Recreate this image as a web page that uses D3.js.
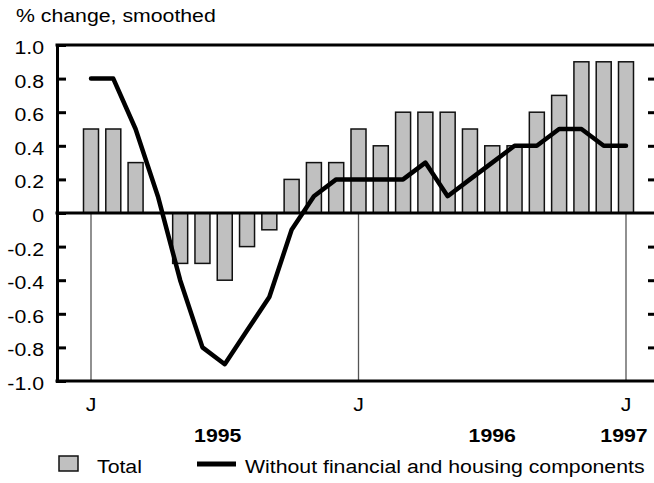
<!DOCTYPE html>
<html>
<head>
<meta charset="utf-8">
<script src="https://cdn.jsdelivr.net/npm/d3@7"></script>
<style>
  html, body { margin: 0; padding: 0; background: #fff; }
  svg { display: block; }
  text { font-family: "Liberation Sans", Arial, Helvetica, sans-serif; fill: #000; }
</style>
</head>
<body>
<svg id="chart" width="654" height="483"></svg>
<script>
// ---- data ----
const months = ["1995-01","1995-02","1995-03","1995-04","1995-05","1995-06","1995-07","1995-08","1995-09","1995-10","1995-11","1995-12",
                "1996-01","1996-02","1996-03","1996-04","1996-05","1996-06","1996-07","1996-08","1996-09","1996-10","1996-11","1996-12",
                "1997-01"];
const total = [0.5, 0.5, 0.3, 0.0, -0.3, -0.3, -0.4, -0.2, -0.1, 0.2, 0.3, 0.3,
               0.5, 0.4, 0.6, 0.6, 0.6, 0.5, 0.4, 0.4, 0.6, 0.7, 0.9, 0.9, 0.9];
const withoutFH = [0.8, 0.8, 0.5, 0.1, -0.4, -0.8, -0.9, -0.7, -0.5, -0.1, 0.1, 0.2,
                   0.2, 0.2, 0.2, 0.3, 0.1, 0.2, 0.3, 0.4, 0.4, 0.5, 0.5, 0.4, 0.4];
const yTicks = [1.0, 0.8, 0.6, 0.4, 0.2, 0, -0.2, -0.4, -0.6, -0.8, -1.0];
const yTickLabels = ["1.0","0.8","0.6","0.4","0.2","0","-0.2","-0.4","-0.6","-0.8","-1.0"];
const monthTicks = ["1995-01","1996-01","1997-01"];
const monthTickLabels = ["J","J","J"];
const yearLabels = [{label:"1995", at:"1995-07", shift:-7}, {label:"1996", at:"1996-07", shift:0}, {label:"1997", at:"1997-01", shift:-2}];
const yTitle = "% change, smoothed";
const legendLabels = ["Total", "Without financial and housing components"];

// ---- layout ----
const SX = 1.12;          // horizontal stretch of the original typography
const FS = 19;
const plot = {left: 57, right: 657, top: 45, bottom: 381};
const svg = d3.select("#chart");

const idx = d => months.indexOf(d);
const x = d3.scaleLinear().domain([0, months.length - 1]).range([91, 626]);
const y = d3.scaleLinear().domain([-1, 1]).range([plot.bottom, plot.top]);

function stretchedText(g, str, tx, ty, anchor, weight) {
  return g.append("text")
    .attr("transform", `translate(${tx},${ty}) scale(${SX},1)`)
    .attr("text-anchor", anchor || "start")
    .attr("font-size", FS)
    .attr("font-weight", weight || "normal")
    .text(str);
}

// title
stretchedText(svg, yTitle, 16, 22, "start");

// vertical January reference lines (below zero)
svg.append("g").selectAll("line").data(monthTicks).join("line")
  .attr("x1", d => x(idx(d))).attr("x2", d => x(idx(d)))
  .attr("y1", y(0)).attr("y2", plot.bottom)
  .attr("stroke", "#555").attr("stroke-width", 1.3);

// bars
const barW = 15;
svg.append("g").selectAll("rect").data(total.map((v, i) => ({v, i})).filter(d => d.v !== 0)).join("rect")
  .attr("x", d => x(d.i) - barW / 2)
  .attr("width", barW)
  .attr("y", d => y(Math.max(0, d.v)))
  .attr("height", d => Math.abs(y(d.v) - y(0)))
  .attr("fill", "#c0c0c0")
  .attr("stroke", "#111")
  .attr("stroke-width", 1.5);

// left axis
const leftAxis = d3.axisLeft(y).tickValues(yTicks).tickSize(-9).tickPadding(13)
  .tickFormat((d, i) => yTickLabels[i]);
const gl = svg.append("g").attr("transform", `translate(${plot.left},0)`).call(leftAxis);
gl.select(".domain").attr("stroke", "#000").attr("stroke-width", 3);
gl.selectAll(".tick line").attr("stroke", "#000").attr("stroke-width", 3);
gl.selectAll(".tick text")
  .attr("font-family", null).attr("font-size", FS)
  .attr("dy", null)
  .attr("x", -13 / SX).attr("y", 8.5)
  .attr("transform", `scale(${SX},1)`)
  .attr("fill", "#000");

// right axis ticks (inward, no labels)
const rightAxis = d3.axisRight(y).tickValues(yTicks.filter(v => v !== 0 && Math.abs(v) !== 1))
  .tickSize(-9).tickFormat("");
const gr = svg.append("g").attr("transform", `translate(${plot.right},0)`).call(rightAxis);
gr.select(".domain").remove();
gr.selectAll(".tick line").attr("stroke", "#000").attr("stroke-width", 3);

// frame lines: top, zero, bottom
svg.append("g").selectAll("line").data([1, 0, -1]).join("line")
  .attr("x1", plot.left - 1.5).attr("x2", plot.right)
  .attr("y1", d => y(d)).attr("y2", d => y(d))
  .attr("stroke", "#000").attr("stroke-width", 3);

// line series
const line = d3.line().x((d, i) => x(i)).y(d => y(d));
svg.append("path").datum(withoutFH)
  .attr("d", line)
  .attr("fill", "none").attr("stroke", "#000")
  .attr("stroke-width", 4.5).attr("stroke-linejoin", "round").attr("stroke-linecap", "round");

// month labels
monthTicks.forEach((m, i) => stretchedText(svg, monthTickLabels[i], x(idx(m)), 411, "middle"));
// year labels
yearLabels.forEach(d => stretchedText(svg, d.label, x(idx(d.at)) + d.shift, 442, "middle", "bold"));

// legend
const lg = svg.append("g");
lg.append("rect").attr("x", 59).attr("y", 456).attr("width", 19).attr("height", 15)
  .attr("fill", "#c0c0c0").attr("stroke", "#111").attr("stroke-width", 1.5);
stretchedText(lg, legendLabels[0], 97, 473, "start");
lg.append("line").attr("x1", 197).attr("x2", 236).attr("y1", 464).attr("y2", 464)
  .attr("stroke", "#000").attr("stroke-width", 5);
stretchedText(lg, legendLabels[1], 245, 473, "start");
</script>
</body>
</html>
